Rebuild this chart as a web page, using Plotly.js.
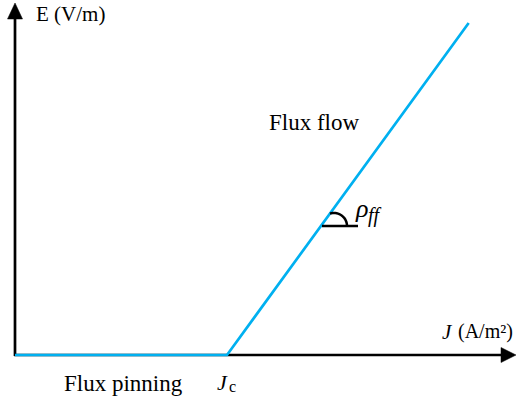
<!DOCTYPE html>
<html>
<head>
<meta charset="utf-8">
<script src="https://cdn.plot.ly/plotly-3.0.1.min.js"></script>
<style>html,body{margin:0;padding:0;background:#fff;}#chart{width:517px;height:400px;}</style>
</head>
<body>
<div id="chart"></div>
<script>
// Data (normalized: Jc = 1)
var currentDensity = [0, 1, 2.14];      // J values
var electricField  = [0, 0, 1.566];     // E values
var yTitle = 'E (V/m)';
var xSymbol = 'J', xUnit = '(A/m²)';
var flowLabel = 'Flux flow';
var pinningLabel = 'Flux pinning';
var jcSymbol = 'J', jcSub = 'c';
var rhoSymbol = 'ρ', rhoSub = 'ff';

// pixel helpers for decorations (unit = 212 px, origin at px (15,355))
var U = 212, OX = 15, OY = 355;
function X(px){ return (px - OX) / U; }
function Y(py){ return (OY - py) / U; }

var blue = '#00B0F0';
var serif = "'Liberation Serif', 'DejaVu Serif', serif";

var trace = {
  x: currentDensity, y: electricField,
  type: 'scatter', mode: 'lines',
  line: {color: blue, width: 2.7},
  hoverinfo: 'skip', showlegend: false
};

// arc path
var cx = 334, cy = 226, r = 13;
var arc = '';
for (var a = 108; a >= 0; a -= 6) {
  var t = a * Math.PI / 180;
  var px = cx + r * Math.cos(t), py = cy - r * Math.sin(t);
  arc += (arc ? ' L ' : 'M ') + X(px) + ',' + Y(py);
}

var shapes = [
  {type:'line', xref:'x', yref:'y', x0:X(15), y0:Y(356), x1:X(15), y1:Y(16), line:{color:'#000', width:2.7}, layer:'below'},
  {type:'path', xref:'x', yref:'y', path:'M '+X(15)+','+Y(3)+' L '+X(7.5)+','+Y(19)+' L '+X(22.5)+','+Y(19)+' Z', fillcolor:'#000', line:{color:'#000', width:0.5}},
  {type:'line', xref:'x', yref:'y', x0:X(14), y0:Y(355), x1:X(503), y1:Y(355), line:{color:'#000', width:2.7}, layer:'below'},
  {type:'path', xref:'x', yref:'y', path:'M '+X(516)+','+Y(355)+' L '+X(501)+','+Y(347.5)+' L '+X(501)+','+Y(362.5)+' Z', fillcolor:'#000', line:{color:'#000', width:0.5}},
  {type:'line', xref:'x', yref:'y', x0:X(322), y0:Y(226), x1:X(358), y1:Y(226), line:{color:'#000', width:2.5}},
  {type:'path', xref:'x', yref:'y', path:arc, line:{color:'#000', width:2.5}}
];

function ann(text, px, py, size, italic){
  return {text:text, x:X(px), y:Y(py), xref:'x', yref:'y', xanchor:'left', yanchor:'middle',
          showarrow:false, font:{family:serif, size:size, color:'#000', style: italic ? 'italic' : 'normal'}};
}
var annotations = [
  ann(yTitle, 34, 13.5, 21),
  ann(flowLabel, 267, 122.5, 23),
  ann(pinningLabel, 62, 383, 23),
  ann(xSymbol, 440, 331.5, 21, true),
  ann(xUnit, 456, 331.5, 20),
  ann(jcSymbol, 215, 382, 22, true),
  ann(jcSub, 227, 386, 16),
  ann(rhoSymbol, 353, 208, 26, true),
  ann(rhoSub, 366, 215, 20, true)
];

var layout = {
  width: 517, height: 400,
  margin: {l:0, r:0, t:0, b:0},
  paper_bgcolor: '#fff', plot_bgcolor: '#fff',
  xaxis: {range:[X(0), X(517)], visible:false, fixedrange:true},
  yaxis: {range:[Y(400), Y(0)], visible:false, fixedrange:true},
  shapes: shapes,
  annotations: annotations,
  showlegend: false
};

Plotly.newPlot('chart', [trace], layout, {staticPlot:true, displayModeBar:false});
</script>
</body>
</html>
